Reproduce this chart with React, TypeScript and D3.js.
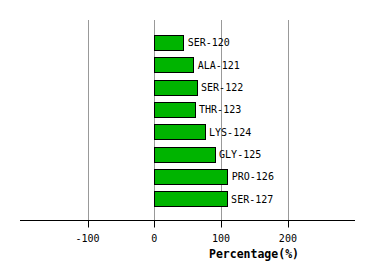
import React from "react";
import * as d3 from "d3";

const categories = ["SER-120", "ALA-121", "SER-122", "THR-123", "LYS-124", "GLY-125", "PRO-126", "SER-127"];
const values = [44, 59, 64, 61, 76, 91, 110, 109];
const ticks = [-100, 0, 100, 200];
const xDomain = [-200, 300];

export default function App() {
  const W = 374, H = 280;
  const x = d3.scaleLinear().domain(xDomain).range([20.7, 354.7]);
  const y = d3.scaleBand<string>().domain(categories).range([31.5, 210.2]).paddingInner(0.31).paddingOuter(0.155);
  const axisY = 220.5;
  const font = "'DejaVu Sans Mono', monospace";
  return (
    <svg width={W} height={H} style={{ position: "fixed", left: 0, top: 0, background: "#fff" }}>
      {ticks.map((t) => (
        <line key={"g" + t} x1={Math.round(x(t)) + 0.5} x2={Math.round(x(t)) + 0.5} y1={20} y2={axisY} stroke="#999" strokeWidth={1} />
      ))}
      {categories.map((c, i) => {
        const y0 = y(c)!;
        const bw = y.bandwidth();
        const x0 = x(0);
        const x1 = x(values[i]);
        return (
          <g key={c}>
            <rect x={Math.round(x0) + 0.5} y={Math.round(y0) + 0.5} width={Math.round(x1 - x0)} height={Math.round(bw)} fill="#00b400" stroke="#000" strokeWidth={1} />
            <text x={x1 + 4} y={y0 + bw / 2} dy="0.35em" fontFamily={font} fontSize={10} fill="#000">{c}</text>
          </g>
        );
      })}
      <line x1={20} x2={355} y1={axisY} y2={axisY} stroke="#000" strokeWidth={1} />
      {ticks.map((t) => (
        <g key={"t" + t}>
          <line x1={Math.round(x(t)) + 0.5} x2={Math.round(x(t)) + 0.5} y1={axisY} y2={227.5} stroke="#000" strokeWidth={1} />
          <text x={x(t)} y={242} textAnchor="middle" fontFamily={font} fontSize={10} fill="#000">{t}</text>
        </g>
      ))}
      <text x={254} y={258} textAnchor="middle" fontFamily={font} fontSize={11.5} fontWeight="bold" fill="#000">Percentage(%)</text>
    </svg>
  );
}
